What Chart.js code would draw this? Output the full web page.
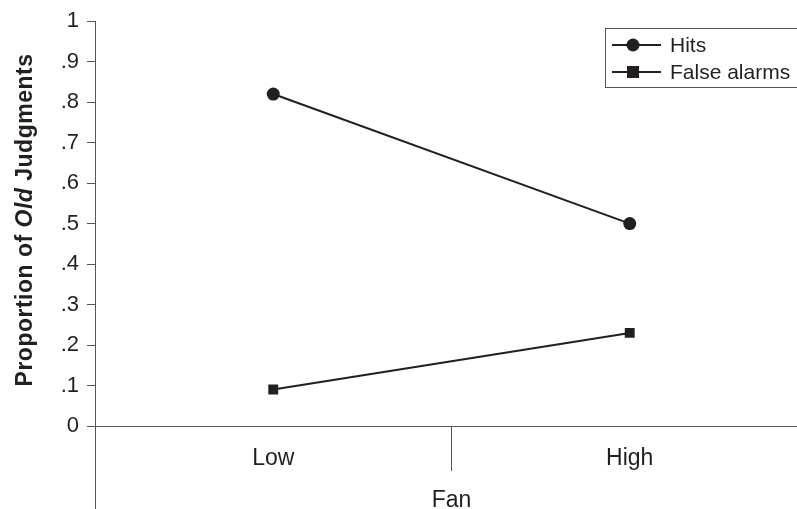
<!DOCTYPE html>
<html>
<head>
<meta charset="utf-8">
<style>
  html, body { margin: 0; padding: 0; background: #fff; overflow: hidden; }
  #wrap { width: 797px; height: 509px; overflow: hidden; }
</style>
<script src="https://cdn.jsdelivr.net/npm/chart.js@4/dist/chart.umd.min.js"></script>
</head>
<body>
<div id="wrap"><canvas id="fan" width="815" height="509"></canvas></div>
<script>
const categories = ['Low', 'High'];
const hits = [0.82, 0.50];
const falseAlarms = [0.09, 0.23];
const yTickLabels = ['0', '.1', '.2', '.3', '.4', '.5', '.6', '.7', '.8', '.9', '1'];

const FONT = '"Liberation Sans", Arial, Helvetica, sans-serif';
const INK = '#231f20';
const AXIS = '#555';

// y axis line runs on below the x axis, down to the bottom edge
const axisExtend = {
    id: 'axisExtend',
    afterDraw(chart) {
        const c = chart.ctx, a = chart.chartArea;
        c.save();
        c.strokeStyle = AXIS;
        c.lineWidth = 1;
        c.beginPath();
        c.moveTo(a.left + 0.5, a.bottom);
        c.lineTo(a.left + 0.5, chart.height);
        c.stroke();
        c.restore();
    }
};

// rotated y title with "Old" in italics
const yTitle = {
    id: 'yTitle',
    afterDraw(chart) {
        const c = chart.ctx;
        const parts = [
            ['Proportion of ', 'bold 23px ' + FONT],
            ['Old', 'italic bold 23px ' + FONT],
            [' Judgments', 'bold 23px ' + FONT]
        ];
        c.save();
        c.letterSpacing = '0.5px';
        let total = 0;
        parts.forEach(p => { c.font = p[1]; total += c.measureText(p[0]).width; });
        c.translate(26, 220);
        c.rotate(-Math.PI / 2);
        c.fillStyle = INK;
        c.textBaseline = 'middle';
        let x = -total / 2;
        parts.forEach(p => {
            c.font = p[1];
            c.fillText(p[0], x, 0);
            x += c.measureText(p[0]).width;
        });
        c.restore();
    }
};

// boxed legend, line through marker
const boxLegend = {
    id: 'boxLegend',
    afterDraw(chart) {
        const c = chart.ctx;
        c.save();
        c.strokeStyle = AXIS;
        c.lineWidth = 1;
        c.strokeRect(605.5, 28.5, 193, 59);
        c.font = '21px ' + FONT;
        c.textBaseline = 'middle';
        chart.data.datasets.forEach((ds, i) => {
            const y = 45 + i * 27;
            c.strokeStyle = INK;
            c.lineWidth = 2;
            c.beginPath();
            c.moveTo(612, y);
            c.lineTo(661, y);
            c.stroke();
            c.fillStyle = INK;
            if (ds.pointStyle === 'rect') {
                c.fillRect(627, y - 6, 12, 12);
            } else {
                c.beginPath();
                c.arc(633, y, 6.5, 0, Math.PI * 2);
                c.fill();
            }
            c.fillText(ds.label, 670, y + 1);
        });
        c.restore();
    }
};

new Chart(document.getElementById('fan'), {
    type: 'line',
    data: {
        labels: categories,
        datasets: [{
            label: 'Hits',
            data: hits,
            borderColor: INK,
            backgroundColor: INK,
            borderWidth: 2,
            pointStyle: 'circle',
            pointRadius: 6.5,
            pointBorderWidth: 0
        }, {
            label: 'False alarms',
            data: falseAlarms,
            borderColor: INK,
            backgroundColor: INK,
            borderWidth: 2,
            pointStyle: 'rect',
            pointRadius: 7,
            pointBorderWidth: 0
        }]
    },
    options: {
        responsive: false,
        devicePixelRatio: 1,
        animation: false,
        layout: { padding: { top: 18, right: 0, bottom: 0, left: 0 } },
        plugins: {
            legend: { display: false },
            tooltip: { enabled: false }
        },
        scales: {
            x: {
                offset: true,
                afterFit(s) { s.height = 83; },
                border: { display: true, color: AXIS, width: 1 },
                grid: { offset: true, drawOnChartArea: false, tickLength: 45, color: AXIS },
                ticks: { color: INK, font: { family: FONT, size: 23 }, padding: -26 },
                title: { display: true, text: 'Fan', color: INK, font: { family: FONT, size: 23 }, padding: { top: 0, bottom: -5 } }
            },
            y: {
                min: 0,
                max: 1,
                afterFit(s) { s.width = 95; },
                border: { display: true, color: AXIS, width: 1 },
                grid: { drawOnChartArea: false, tickLength: 8, color: AXIS },
                ticks: {
                    stepSize: 0.1,
                    color: INK,
                    padding: 8,
                    font: { family: FONT, size: 22 },
                    callback: (v, i) => yTickLabels[i]
                }
            }
        }
    },
    plugins: [axisExtend, yTitle, boxLegend]
});
</script>
</body>
</html>
